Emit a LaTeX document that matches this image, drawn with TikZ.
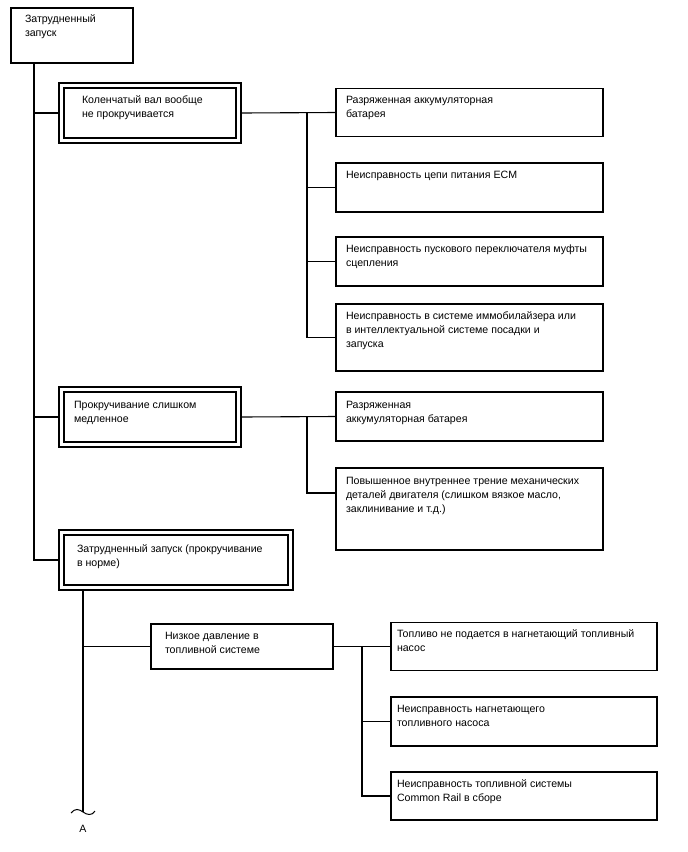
\documentclass[tikz,border=0pt]{standalone}
\usepackage{fontspec}
\setmainfont{Liberation Sans}
\usetikzlibrary{calc, positioning}

% width, height, left inset, top inset, lines
\newcommand{\boxlines}[5]{%
  \parbox[t][#2][t]{#1}{\vspace*{#4}\hspace*{#3}%
    \begin{tabular}[t]{@{}l@{}}#5\end{tabular}}}

\begin{document}
\begin{tikzpicture}[x=1pt,y=-1pt,
  box/.style={draw,line width=1.1pt,anchor=north west,inner sep=0pt,outer sep=0pt,
    font=\fontsize{10.6}{14}\selectfont},
  dbox/.style={box,double,double distance=3.9pt,outer sep=3.05pt},
  link/.style={line width=1.1pt}]
\useasboundingbox (0,0) rectangle (688,852);

% Top of the tree.
\node[box] (start) at (11,8)
  {\boxlines{122pt}{55pt}{14pt}{4.6pt}{Затрудненный\\запуск}};
\coordinate (trunk) at (34,0);

% Three symptom groups.
\node[dbox] (n1) at (58.45,82.45)
  {\boxlines{177pt}{55pt}{20.5pt}{7.9pt}{Коленчатый вал вообще\\не прокручивается}};
\node[dbox] (n2) at (58.45,386.45)
  {\boxlines{177pt}{55pt}{12.5pt}{8.9pt}{Прокручивание слишком\\медленное}};
\node[dbox] (n3) at (58.45,529.45)
  {\boxlines{229pt}{55pt}{15.5pt}{10.4pt}{Затрудненный запуск (прокручивание\\в норме)}};

% Causes for the first group.
\node[box] (r1) at (336,88.5)
  {\boxlines{267pt}{48pt}{10pt}{5.6pt}{Разряженная аккумуляторная\\батарея}};
\node[box] (r2) at (336,163)
  {\boxlines{267pt}{49pt}{10pt}{5.6pt}{Неисправность цепи питания ECM}};
\node[box] (r3) at (336,237)
  {\boxlines{267pt}{49pt}{10pt}{5.6pt}{Неисправность пускового переключателя муфты\\сцепления}};
\node[box] (r4) at (336,304)
  {\boxlines{267pt}{67pt}{10pt}{5.6pt}{Неисправность в системе иммобилайзера или\\в интеллектуальной системе посадки и\\запуска}};
\coordinate (br1) at (307,0);

% Causes for the second group.
\node[box] (b1) at (336,392)
  {\boxlines{267pt}{49pt}{10pt}{6.6pt}{Разряженная\\аккумуляторная батарея}};
\node[box] (b2) at (336,468)
  {\boxlines{267pt}{82pt}{10pt}{6.6pt}{Повышенное внутреннее трение механических\\деталей двигателя (слишком вязкое масло,\\заклинивание и т.д.)}};
\coordinate (b2in) at ($(b2.north west)+(0,25)$);

% Third group, continued on the next sheet.
\coordinate (trunkb) at (83,0);
\coordinate (tail) at (83,812);
\node[box] (c1) at (151,624)
  {\boxlines{182pt}{45pt}{14pt}{5.6pt}{Низкое давление в\\топливной системе}};
\node[box] (d1) at (391,622.5)
  {\boxlines{266pt}{48pt}{6pt}{5.6pt}{Топливо не подается в нагнетающий топливный\\насос}};
\node[box] (d2) at (391,697)
  {\boxlines{266pt}{49pt}{6pt}{5.6pt}{Неисправность нагнетающего\\топливного насоса}};
\node[box] (d3) at (391,772)
  {\boxlines{266pt}{48pt}{6pt}{5.6pt}{Неисправность топливной системы\\Common Rail в сборе}};
\coordinate (br3) at (362,0);
\node[font=\fontsize{10.6}{14}\selectfont] (lblA) at (83,829) {A};

% Connectors.
\draw[link] (start.south -| trunk) |- (n3.west);
\draw[link] (trunk |- n1.west) -- (n1.west);
\draw[link] (trunk |- n2.west) -- (n2.west);
\draw[link] (n1.east) -- (r1.west);
\draw[link] (br1 |- r1.west) |- (r4.west);
\draw[link] (br1 |- r2.west) -- (r2.west);
\draw[link] (br1 |- r3.west) -- (r3.west);
\draw[link] (n2.east) -- (b1.west);
\draw[link] (br1 |- b1.west) |- (b2in);
\draw[link] (n3.south -| trunkb) -- (tail);
\draw[link] (trunkb |- c1.west) -- (c1.west);
\draw[link] (c1.east) -- (d1.west);
\draw[link] (br3 |- d1.west) |- (d3.west);
\draw[link] (br3 |- d2.west) -- (d2.west);

% Break mark.
\draw[line width=1pt] ($(tail)+(-12,1)$) .. controls ($(tail)+(-8,-4)$) and ($(tail)+(-4,-3)$) .. (tail)
  .. controls ($(tail)+(4,3)$) and ($(tail)+(9,4)$) .. ($(tail)+(12,-1)$);
\end{tikzpicture}
\end{document}
